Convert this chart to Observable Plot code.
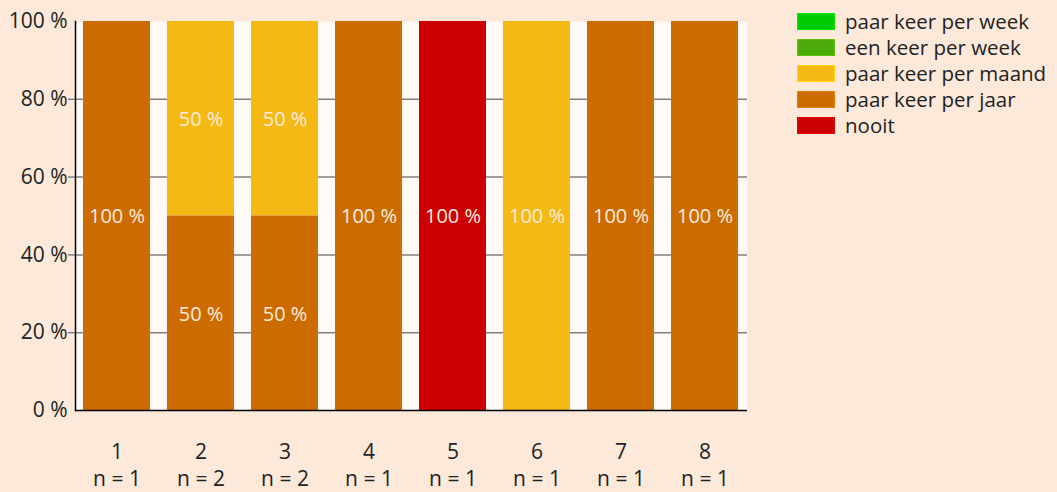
<!DOCTYPE html>
<html><head><meta charset="utf-8">
<script src="https://cdn.jsdelivr.net/npm/d3@7"></script>
<script src="https://cdn.jsdelivr.net/npm/@observablehq/plot@0.6"></script>
<style>
html,body{margin:0;padding:0;background:#FDE9D9;}
#wrap{position:relative;width:1057px;height:492px;font-family:"Open Sans",sans-serif;overflow:hidden;}
#legend{position:absolute;left:797px;top:8px;}
.row{display:flex;align-items:center;height:26px;}
.sw{width:38px;height:17px;box-sizing:border-box;margin-right:10px;flex:none;}
.lb{font-size:20.5px;line-height:26px;color:#222;white-space:nowrap;}
</style></head>
<body><div id="wrap"><div id="chart"></div><div id="legend"></div></div>
<script>
const categories = ["1","2","3","4","5","6","7","8"];
const nValues = [1,2,2,1,1,1,1,1];
const seriesNames = ["paar keer per week","een keer per week","paar keer per maand","paar keer per jaar","nooit"];
const seriesColors = ["#00CC00","#4CAA0A","#F5B914","#CC6C00","#CC0000"];
const paarKeerPerWeek = [0,0,0,0,0,0,0,0];
const eenKeerPerWeek = [0,0,0,0,0,0,0,0];
const paarKeerPerMaand = [0,50,50,0,0,100,0,0];
const paarKeerPerJaar = [100,50,50,100,0,0,100,100];
const nooit = [0,0,0,0,100,0,0,0];
const yTicks = [0,20,40,60,80,100];
const gridTicks = [20,40,60,80];

const seriesValues = [paarKeerPerWeek, eenKeerPerWeek, paarKeerPerMaand, paarKeerPerJaar, nooit];
const data = [];
seriesNames.forEach((s, si) => {
  categories.forEach((c, ci) => {
    const v = seriesValues[si][ci];
    if (v > 0) data.push({cat: c, series: s, value: v});
  });
});
const stackOrder = seriesNames.slice().reverse();

const chart = Plot.plot({
  width: 1057,
  height: 492,
  marginLeft: 75,
  marginRight: 310,
  marginTop: 21,
  marginBottom: 82,
  style: {background: "transparent", fontFamily: "Open Sans, sans-serif", fontSize: "21px", color: "#222"},
  x: {domain: categories, paddingInner: 0.2, paddingOuter: 0.1, label: null},
  y: {domain: [0, 100], label: null},
  color: {domain: seriesNames, range: seriesColors},
  marks: [
    Plot.frame({fill: "#FFFAF5", stroke: null}),
    Plot.gridY(gridTicks, {stroke: "#808080", strokeOpacity: 1, strokeWidth: 1.5}),
    Plot.axisY(gridTicks, {tickSize: 7, stroke: "#808080", strokeWidth: 1.5, tickFormat: () => ""}),
    Plot.axisY(yTicks, {tickSize: 0, tickPadding: 8, tickFormat: d => d + " %", fontSize: 21, fill: "#222"}),
    Plot.barY(data, Plot.stackY({x: "cat", y: "value", z: "series", order: stackOrder, fill: d => d.series})),
    Plot.text(data, Plot.stackY({x: "cat", y: "value", z: "series", order: stackOrder, text: d => d.value + " %", fill: "#FCEBDD", fontSize: 20, dy: 1})),
    Plot.axisX({tickSize: 0, tickPadding: 29, lineHeight: 1.29, fontSize: 21, fill: "#222",
      tickFormat: d => d + "\nn = " + nValues[categories.indexOf(d)]}),
    Plot.frame({anchor: "left", stroke: "#000", strokeWidth: 1.5}),
    Plot.ruleY([0], {stroke: "#000", strokeWidth: 1.5})
  ]
});
document.getElementById("chart").appendChild(chart);

const legend = document.getElementById("legend");
seriesNames.forEach((s, i) => {
  const row = document.createElement("div");
  row.className = "row";
  const sw = document.createElement("div");
  sw.className = "sw";
  sw.style.background = seriesColors[i];
  sw.style.border = "1px solid " + d3.color(seriesColors[i]).brighter(0.4);
  const lb = document.createElement("div");
  lb.className = "lb";
  lb.textContent = s;
  row.appendChild(sw); row.appendChild(lb);
  legend.appendChild(row);
});
</script></body></html>
